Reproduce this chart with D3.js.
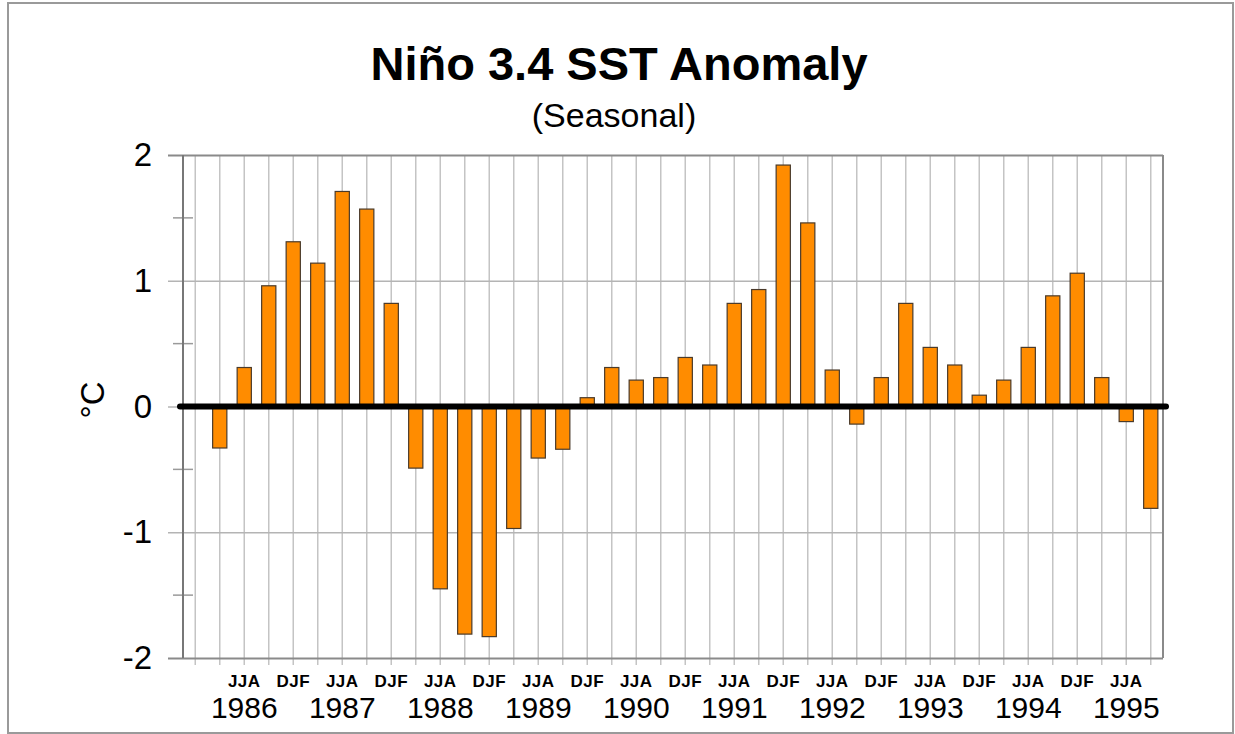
<!DOCTYPE html>
<html>
<head>
<meta charset="utf-8">
<script src="https://cdn.jsdelivr.net/npm/d3@7"></script>
<style>
  body { margin: 0; background: #fff; }
  svg text { font-family: "Liberation Sans", Arial, Helvetica, sans-serif; fill: #000; }
</style>
</head>
<body>
<svg id="chart"></svg>
<script>
// seasonal Nino 3.4 anomalies, DJF 1986 .. SON 1995 (first season has no bar)
const seasons = ["DJF", "MAM", "JJA", "SON"];
const years = [1986, 1987, 1988, 1989, 1990, 1991, 1992, 1993, 1994, 1995];
const anomalies = [
    null, -0.33, 0.31, 0.96,
    1.31, 1.14, 1.71, 1.57,
    0.82, -0.49, -1.45, -1.81,
    -1.83, -0.97, -0.41, -0.34,
    0.07, 0.31, 0.21, 0.23,
    0.39, 0.33, 0.82, 0.93,
    1.92, 1.46, 0.29, -0.14,
    0.23, 0.82, 0.47, 0.33,
    0.09, 0.21, 0.47, 0.88,
    1.06, 0.23, -0.12, -0.81
];
const yMajor = [-2, -1, 0, 1, 2];
const yMinor = [-1.5, -0.5, 0.5, 1.5];

const data = anomalies.map((v, i) => ({
    i: i,
    season: seasons[i % 4],
    year: years[Math.floor(i / 4)],
    value: v
}));

const W = 1235, H = 734;
const plot = {left: 183, right: 1163, top: 155, bottom: 658};

const svg = d3.select('#chart')
    .attr('width', W)
    .attr('height', H);

// outer frame
svg.append('rect')
    .attr('x', 8).attr('y', 3)
    .attr('width', 1225).attr('height', 730)
    .attr('fill', 'none')
    .attr('stroke', '#9a9a9a')
    .attr('stroke-width', 2);

const x = d3.scaleBand()
    .domain(data.map(d => d.i))
    .range([plot.left, plot.right])
    .padding(0);

const y = d3.scaleLinear()
    .domain([-2, 2])
    .range([plot.bottom, plot.top]);

const xc = i => x(i) + x.bandwidth() / 2;

// vertical gridlines / x ticks
svg.append('g')
    .attr('transform', `translate(0,${plot.bottom + 7})`)
    .call(d3.axisBottom(x).tickSize(-(plot.bottom + 7 - plot.top)).tickFormat(''))
    .call(g => g.select('.domain').remove())
    .call(g => g.selectAll('.tick line').attr('stroke', '#c4c4c4').attr('stroke-width', 1.5));

// horizontal gridlines / major y ticks
svg.append('g')
    .attr('transform', `translate(${plot.right},0)`)
    .call(d3.axisLeft(y).tickValues(yMajor).tickSize(plot.right - 168).tickFormat(''))
    .call(g => g.select('.domain').remove())
    .call(g => g.selectAll('.tick line')
        .attr('stroke', d => (d === 2 || d === -2) ? '#8a8a8a' : '#b4b4b4')
        .attr('stroke-width', d => (d === 2 || d === -2) ? 2 : 1.5));

// minor y ticks
svg.append('g')
    .selectAll('line')
    .data(yMinor)
    .join('line')
        .attr('x1', 173).attr('x2', 193)
        .attr('y1', d => y(d)).attr('y2', d => y(d))
        .attr('stroke', '#9a9a9a')
        .attr('stroke-width', 1.5);

// y tick labels (plain hyphen for the minus sign)
svg.append('g')
    .attr('transform', 'translate(168,0)')
    .call(d3.axisLeft(y).tickValues(yMajor).tickSize(0).tickPadding(16).tickFormat(d => String(d)))
    .call(g => g.select('.domain').remove())
    .call(g => g.selectAll('text')
        .style('font-size', '33px')
        .attr('fill', '#000'));

// plot frame: left axis and right border
svg.append('line')
    .attr('x1', plot.left).attr('x2', plot.left)
    .attr('y1', plot.top).attr('y2', plot.bottom)
    .attr('stroke', '#777').attr('stroke-width', 2);
svg.append('line')
    .attr('x1', plot.right).attr('x2', plot.right)
    .attr('y1', plot.top).attr('y2', plot.bottom)
    .attr('stroke', '#8a8a8a').attr('stroke-width', 2);

// bars
const barW = x.bandwidth() * 0.58;
svg.append('g')
    .selectAll('rect')
    .data(data.filter(d => d.value !== null))
    .join('rect')
        .attr('x', d => xc(d.i) - barW / 2)
        .attr('y', d => y(Math.max(0, d.value)))
        .attr('width', barW)
        .attr('height', d => Math.abs(y(d.value) - y(0)))
        .attr('fill', '#ff8c00')
        .attr('stroke', '#4a3a2a')
        .attr('stroke-width', 1.2);

// zero line
svg.append('line')
    .attr('x1', 180).attr('x2', 1166)
    .attr('y1', y(0)).attr('y2', y(0))
    .attr('stroke', '#000')
    .attr('stroke-width', 6)
    .attr('stroke-linecap', 'round');

// season labels
svg.append('g')
    .selectAll('text')
    .data(data.filter(d => d.i > 0 && (d.season === 'JJA' || d.season === 'DJF')))
    .join('text')
        .attr('x', d => xc(d.i))
        .attr('y', 687)
        .attr('text-anchor', 'middle')
        .style('font-size', '17px')
        .style('font-weight', 'bold')
        .style('letter-spacing', '0.5px')
        .text(d => d.season);

// year labels under JJA
svg.append('g')
    .selectAll('text')
    .data(data.filter(d => d.season === 'JJA'))
    .join('text')
        .attr('x', d => xc(d.i))
        .attr('y', 718)
        .attr('text-anchor', 'middle')
        .style('font-size', '30px')
        .text(d => d.year);

// y axis title
svg.append('text')
    .attr('transform', 'translate(104,400) rotate(-90)')
    .attr('text-anchor', 'middle')
    .style('font-size', '33px')
    .text('°C');

// titles
svg.append('text')
    .attr('x', 619).attr('y', 80)
    .attr('text-anchor', 'middle')
    .style('font-size', '47px')
    .style('font-weight', 'bold')
    .text('Niño 3.4 SST Anomaly');

svg.append('text')
    .attr('x', 614).attr('y', 127)
    .attr('text-anchor', 'middle')
    .style('font-size', '34px')
    .text('(Seasonal)');
</script>
</body>
</html>
